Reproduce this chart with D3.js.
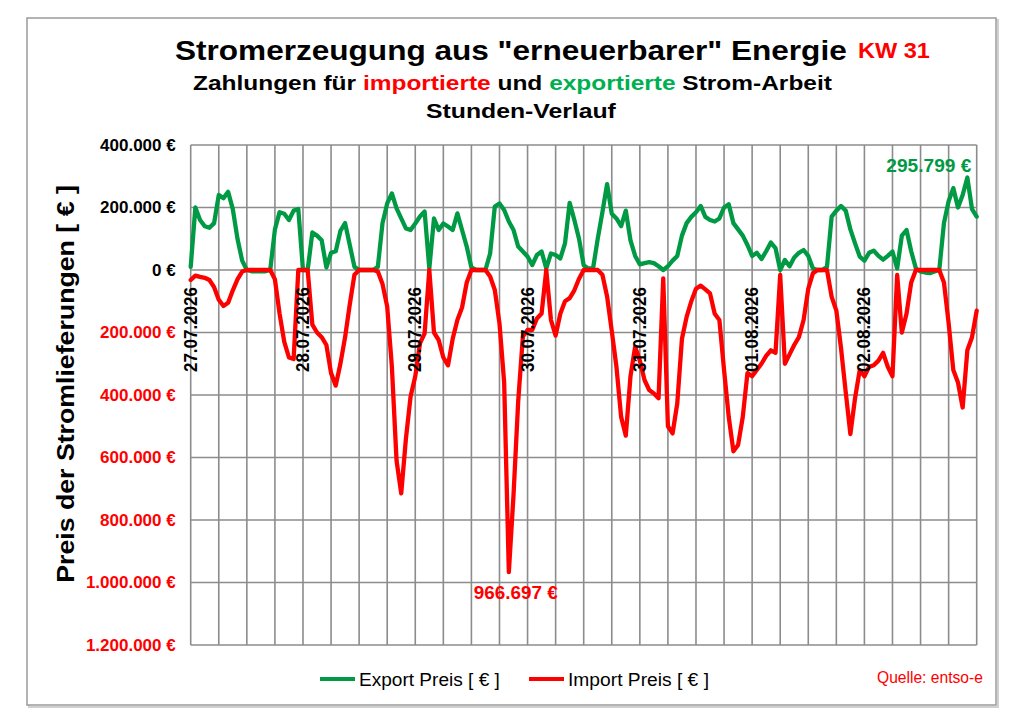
<!DOCTYPE html>
<html>
<head>
<meta charset="utf-8">
<script src="https://cdn.jsdelivr.net/npm/d3@7"></script>
<style>
  body { margin: 0; background: #fff; }
  svg { display: block; font-family: "Liberation Sans", Arial, sans-serif; }
</style>
</head>
<body>
<svg id="chart" width="1024" height="724"></svg>
<script>
// Stundenwerte KW 31 (27.07. 00:00 bis 03.08. 00:00), in Tsd. €
var exportK = [
  10, 200, 160, 140, 135, 150, 240, 230, 250, 195, 100, 30,
  0, -4, -4, -4, -4, 0, 130, 185, 180, 160, 190, 195,
  0, 0, 120, 110, 95, 8, 55, 60, 125, 150, 80, 10,
  0, 0, 0, 0, 10, 150, 213, 245, 197, 165, 133, 128,
  149, 171, 187, 5, 165, 128, 149, 139, 128, 181, 128, 75,
  8, 0, 0, 0, 53, 203, 213, 192, 155, 128, 75, 59,
  43, 16, 48, 59, 5, 53, 48, 37, 85, 215, 160, 100,
  15, 5, 5, 100, 185, 275, 180, 165, 140, 190, 95, 45,
  18, 22, 25, 22, 12, 0, 12, 30, 45, 110, 150, 170,
  185, 205, 170, 160, 155, 165, 200, 210, 150, 130, 110, 80,
  45, 55, 35, 60, 88, 70, 0, 32, 12, 40, 55, 64,
  45, 5, 0, 0, 10, 171, 190, 205, 190, 130, 85, 43,
  30, 55, 62, 45, 33, 45, 59, 5, 110, 128, 60, 5,
  -5, -8, -10, -5, 0, 150, 220, 262, 200, 240, 295.799, 195,
  171
];
var importK = [
  32, 18, 22, 25, 32, 55, 95, 115, 105, 65, 30, 5,
  0, 0, 0, 0, 0, 0, 30, 140, 230, 280, 285, 0,
  0, 0, 175, 200, 215, 240, 330, 370, 300, 215, 110, 15,
  0, 0, 0, 0, 5, 45, 117, 309, 610, 715, 540, 405,
  340, 235, 203, 0, 200, 224, 280, 305, 220, 160, 120, 40,
  0, 0, 0, 0, 21, 64, 171, 360, 966.697, 720, 420, 213,
  192, 192, 155, 139, 0, 160, 210, 140, 100, 90, 65, 28,
  0, 0, 0, 0, 15, 85, 195, 310, 470, 530, 340, 245,
  290, 352, 384, 395, 410, 27, 500, 523, 427, 220, 150, 100,
  60, 50, 62, 75, 140, 160, 320, 470, 580, 560, 470, 330,
  340, 320, 300, 275, 257, 265, 16, 300, 270, 240, 215, 160,
  60, 10, 0, 0, 0, 86, 130, 250, 390, 525, 410, 320,
  340, 310, 305, 290, 265, 310, 340, 16, 200, 140, 40, 0,
  0, 0, 0, 0, 0, 40, 170, 320, 360, 440, 257, 215,
  130
];
var days = ["27.07.2026", "28.07.2026", "29.07.2026", "30.07.2026",
            "31.07.2026", "01.08.2026", "02.08.2026"];
var yTicks = [400, 200, 0, -200, -400, -600, -800, -1000, -1200];

var svg = d3.select("#chart");
var plotL = 190.7, plotR = 976.7, plotT = 145, plotB = 645;

var x = d3.scaleLinear().domain([0, exportK.length - 1]).range([plotL, plotR]);
var y = d3.scaleLinear().domain([400, -1200]).range([plotT, plotB]);

var de = d3.formatLocale({decimal: ",", thousands: ".", grouping: [3], currency: ["", " €"]});
var fmt = de.format(",.0f");
var euro = function(k) { return k === 0 ? "0 €" : fmt(Math.abs(k) * 1000) + " €"; };

var green = "#009A44", red = "#FF0000", grid = "#8c8c8c";

// text placed at (px,py), stretched along its direction to a given length
function label(o) {
  var t = svg.append("text")
    .attr("font-size", o.size)
    .attr("font-weight", o.weight || "normal")
    .attr("fill", o.fill || "#000")
    .attr("text-anchor", o.anchor || "start");
  if (o.parts) {
    o.parts.forEach(function(p) { t.append("tspan").attr("fill", p[1] || null).text(p[0]); });
  } else {
    t.text(o.text);
  }
  var s = o.len ? o.len / t.node().getComputedTextLength() : 1;
  t.attr("transform", "translate(" + o.x + "," + o.y + ")" +
    (o.rot ? " rotate(" + o.rot + ")" : "") + " scale(" + s + ",1)");
  return t;
}

// frame
svg.append("rect").attr("x", 29).attr("y", 20).attr("width", 969).attr("height", 687)
  .attr("fill", "none").attr("stroke", "#d0d0d0").attr("stroke-width", 2);
svg.append("rect").attr("x", 27).attr("y", 18).attr("width", 969).attr("height", 687)
  .attr("fill", "#fff").attr("stroke", "#9a9a9a").attr("stroke-width", 1.5);

// titles
label({x: 175, y: 60, size: 27, weight: "bold", len: 672,
  text: 'Stromerzeugung aus "erneuerbarer" Energie'});
label({x: 858, y: 57.5, size: 22, weight: "bold", fill: red, len: 72, text: "KW 31"});
label({x: 193, y: 90, size: 21, weight: "bold", len: 639, parts: [
  ["Zahlungen für "], ["importierte", red], [" und "], ["exportierte", "#00B050"], [" Strom-Arbeit"]]});
label({x: 426, y: 118, size: 21, weight: "bold", len: 190, text: "Stunden-Verlauf"});

// grid
var g = svg.append("g");
g.selectAll(".hg").data(yTicks).enter().append("line")
  .attr("x1", plotL).attr("x2", plotR)
  .attr("y1", function(d) { return y(d); }).attr("y2", function(d) { return y(d); })
  .attr("stroke", grid).attr("stroke-width", 1.6);
g.selectAll(".vg").data(d3.range(0, exportK.length, 6)).enter().append("line")
  .attr("x1", function(d) { return x(d); }).attr("x2", function(d) { return x(d); })
  .attr("y1", plotT).attr("y2", plotB)
  .attr("stroke", grid).attr("stroke-width", 1.6);

// y axis labels
var yAxis = svg.append("g").attr("transform", "translate(" + (plotL - 12) + ",0)")
  .call(d3.axisLeft(y).tickValues(yTicks).tickSize(0).tickFormat(euro));
yAxis.select(".domain").remove();
yAxis.selectAll("text")
  .attr("font-family", '"Liberation Sans", Arial, sans-serif')
  .attr("font-size", 17).attr("font-weight", "bold").attr("x", -3)
  .attr("fill", function(d) { return d < 0 ? red : "#000"; });

label({x: 74, y: 384, rot: -90, anchor: "middle", size: 24, weight: "bold", len: 398,
  text: "Preis der Stromlieferungen [ € ]"});

// lines
var lineExp = d3.line().x(function(d, i) { return x(i); }).y(function(d) { return y(d); });
var lineImp = d3.line().x(function(d, i) { return x(i); }).y(function(d) { return y(-d); });

svg.append("path").datum(exportK).attr("d", lineExp)
  .attr("fill", "none").attr("stroke", green).attr("stroke-width", 4.3)
  .attr("stroke-linejoin", "round").attr("stroke-linecap", "round");
svg.append("path").datum(importK).attr("d", lineImp)
  .attr("fill", "none").attr("stroke", red).attr("stroke-width", 4.3)
  .attr("stroke-linejoin", "round").attr("stroke-linecap", "round");

// day labels
days.forEach(function(d, i) {
  label({x: x(i * 24) + 6, y: 372, rot: -90, size: 18, weight: "bold", len: 85, text: d});
});

// min / max labels
var iMax = d3.maxIndex(exportK), iImp = d3.maxIndex(importK);
label({x: x(iMax) + 4, y: y(exportK[iMax]) - 6, anchor: "end", size: 19, weight: "bold",
  fill: green, len: 85, text: euro(exportK[iMax])});
label({x: x(iImp) + 7, y: y(-importK[iImp]) + 27, anchor: "middle", size: 19, weight: "bold",
  fill: red, len: 84, text: euro(importK[iImp])});

// legend
var legend = [
  {name: "Export Preis [ € ]", color: green, x: 320},
  {name: "Import Preis [ € ]", color: red, x: 529}
];
legend.forEach(function(d) {
  svg.append("line").attr("x1", d.x).attr("x2", d.x + 35).attr("y1", 679).attr("y2", 679)
    .attr("stroke", d.color).attr("stroke-width", 4);
  label({x: d.x + 39, y: 686, size: 19, len: 141, text: d.name});
});

label({x: 877, y: 683, size: 16, fill: red, len: 106, text: "Quelle: entso-e"});
</script>
</body>
</html>
